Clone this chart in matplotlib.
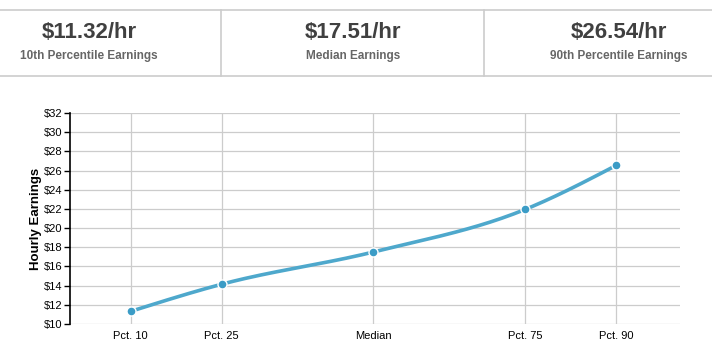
import numpy as np
import matplotlib
matplotlib.use("Agg")
import matplotlib.pyplot as plt
from matplotlib.ticker import FuncFormatter

# data
pct = [10, 25, 50, 75, 90]
labels = ["Pct. 10", "Pct. 25", "Median", "Pct. 75", "Pct. 90"]
wages = [11.32, 14.15, 17.51, 21.95, 26.54]

stat_values = ["$11.32/hr", "$17.51/hr", "$26.54/hr"]
stat_names = ["10th Percentile Earnings", "Median Earnings", "90th Percentile Earnings"]
stat_x = [89, 353, 619]

W, H = 712, 363
LINE = "#4ea8cc"
DOT = "#3b9cc6"
GRID = "#cccccc"


def monotone(x, y, n=40):
    """Smooth monotone cubic curve through the points (like d3 monotoneX)."""
    x = np.asarray(x, float)
    y = np.asarray(y, float)
    h = np.diff(x)
    s = np.diff(y) / h
    m = np.zeros_like(y)
    for i in range(1, len(x) - 1):
        if s[i - 1] * s[i] <= 0:
            m[i] = 0
        else:
            p = (s[i - 1] * h[i] + s[i] * h[i - 1]) / (h[i - 1] + h[i])
            m[i] = np.sign(s[i - 1]) * min(abs(s[i - 1]), abs(s[i]), 0.5 * abs(p)) * 2
    m[0] = (3 * s[0] - m[1]) / 2
    m[-1] = (3 * s[-1] - m[-2]) / 2
    xs, ys = [], []
    for i in range(len(x) - 1):
        t = np.linspace(0, 1, n)
        h00 = 2 * t**3 - 3 * t**2 + 1
        h10 = t**3 - 2 * t**2 + t
        h01 = -2 * t**3 + 3 * t**2
        h11 = t**3 - t**2
        xs.append(x[i] + t * h[i])
        ys.append(h00 * y[i] + h10 * h[i] * m[i] + h01 * y[i + 1] + h11 * h[i] * m[i + 1])
    return np.concatenate(xs), np.concatenate(ys)


plt.rcParams['font.family'] = ['Liberation Sans', 'DejaVu Sans']

fig = plt.figure(figsize=(W / 100, H / 100), dpi=100)

# top stats panel
def fx(px):
    return px / W

def fy(py):
    return 1 - py / H

for py in [10, 76]:
    fig.add_artist(plt.Line2D([0, 1], [fy(py), fy(py)], color=GRID, lw=1.2))
for px in [221, 484]:
    fig.add_artist(plt.Line2D([fx(px), fx(px)], [fy(10), fy(76)], color=GRID, lw=1.2))

for x, v, n in zip(stat_x, stat_values, stat_names):
    fig.text(fx(x), fy(33), v, ha="center", va="center", fontsize=16, fontweight="bold",
             color="#404040")
    fig.text(fx(x), fy(56), n, ha="center", va="center", fontsize=8.5, fontweight="bold",
             color="#666666")

# chart
ax = fig.add_axes([fx(70), fy(324), fx(680) - fx(70), fy(113) - fy(324)])
ax.set_xlim(0, 100.5)
ax.set_ylim(10, 32)

ax.set_yticks(np.arange(10, 33, 2))
ax.yaxis.set_major_formatter(FuncFormatter(lambda v, p: "$%d" % v))
ax.set_xticks(pct)
ax.set_xticklabels(labels)
ax.grid(True, color=GRID, lw=0.9)
ax.set_axisbelow(True)

for side in ["top", "right", "bottom"]:
    ax.spines[side].set_visible(False)
ax.spines["left"].set_color("black")
ax.spines["left"].set_linewidth(1.2)
ax.tick_params(axis="y", length=4, width=1, color="black", labelsize=8, pad=1.5)
ax.tick_params(axis="x", length=0, labelsize=8, pad=5)

cx, cy = monotone(pct, wages)
ax.plot(cx, cy, color=LINE, lw=2.6, solid_capstyle="round", zorder=3)
ax.plot(pct, wages, "o", color=DOT, ms=6.5, mec="white", mew=1, zorder=4, clip_on=False)

ax.set_ylabel("Hourly Earnings", fontsize=9.5, fontweight="bold")
ax.yaxis.set_label_coords(-(70 - 42) / 610, 0.5)

fig.savefig("out.png", dpi=100)
